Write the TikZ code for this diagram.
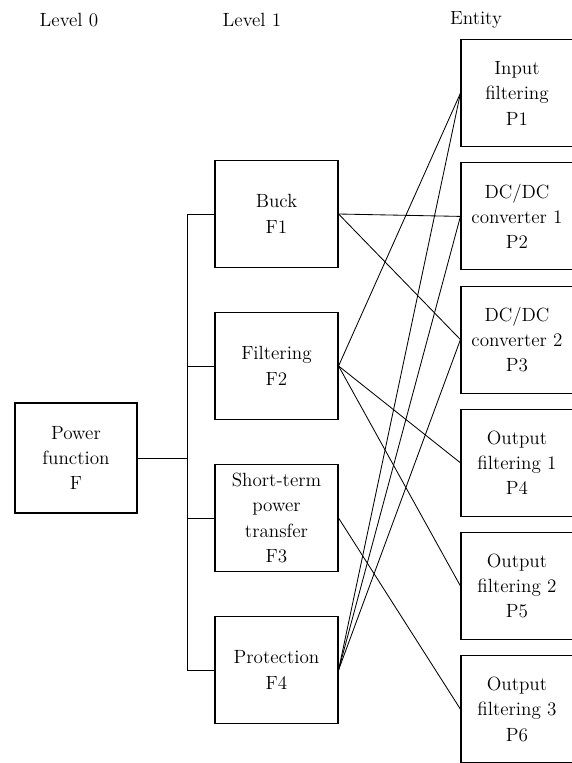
\documentclass[tikz,border=0pt]{standalone}
\usepackage{tikz}

\begin{document}
\begin{tikzpicture}[
    box/.style={draw, line width=0.8pt, minimum height=2.675cm, align=center, inner sep=0pt,
                font=\fontsize{13.6}{18}\selectfont},
    fbox/.style={box, minimum width=3.075cm},
    pbox/.style={box, minimum width=2.8cm},
    head/.style={font=\fontsize{13.6}{16}\selectfont},
    link/.style={line width=0.6pt}
]
    \clip (0,0) rectangle (14.3,-19.075);

    % column titles
    \node[head] (h0) at (1.725,-0.5)  {Level 0};
    \node[head] (h1) at (6.3,-0.5)    {Level 1};
    \node[head] (h2) at (11.9,-0.5)   {Entity};

    % level 0
    \node[box, minimum width=3.05cm, minimum height=2.75cm] (pf) at (1.9,-11.45) {Power\\function\\F};

    % level 1
    \node[fbox] (f1) at (6.9125,-5.35)  {Buck\\F1};
    \node[fbox] (f2) at (6.9125,-9.15)  {Filtering\\F2};
    \node[fbox] (f3) at (6.9125,-12.95) {Short-term\\power\\transfer\\F3};
    \node[fbox] (f4) at (6.9125,-16.75) {Protection\\F4};

    % entities
    \node[pbox] (p1) at (12.925,-2.33)  {Input\\filtering\\P1};
    \node[pbox] (p2) at (12.925,-5.41)  {DC/DC\\converter 1\\P2};
    \node[pbox] (p3) at (12.925,-8.49)  {DC/DC\\converter 2\\P3};
    \node[pbox] (p4) at (12.925,-11.57) {Output\\filtering 1\\P4};
    \node[pbox] (p5) at (12.925,-14.65) {Output\\filtering 2\\P5};
    \node[pbox] (p6) at (12.925,-17.73) {Output\\filtering 3\\P6};

    % tree from level 0 to level 1
    \coordinate (bus) at (4.675,-11.45);
    \draw[link] (pf.east) -- (bus);
    \foreach \f in {f1,f2,f3,f4}
        \draw[link] (bus) |- (\f.west);

    % functions to entities
    \foreach \a/\b in {f1/p2, f1/p3, f2/p1, f2/p4, f2/p5, f3/p6, f4/p1, f4/p2, f4/p3}
        \draw[link] (\a.east) -- (\b.west);
\end{tikzpicture}
\end{document}
